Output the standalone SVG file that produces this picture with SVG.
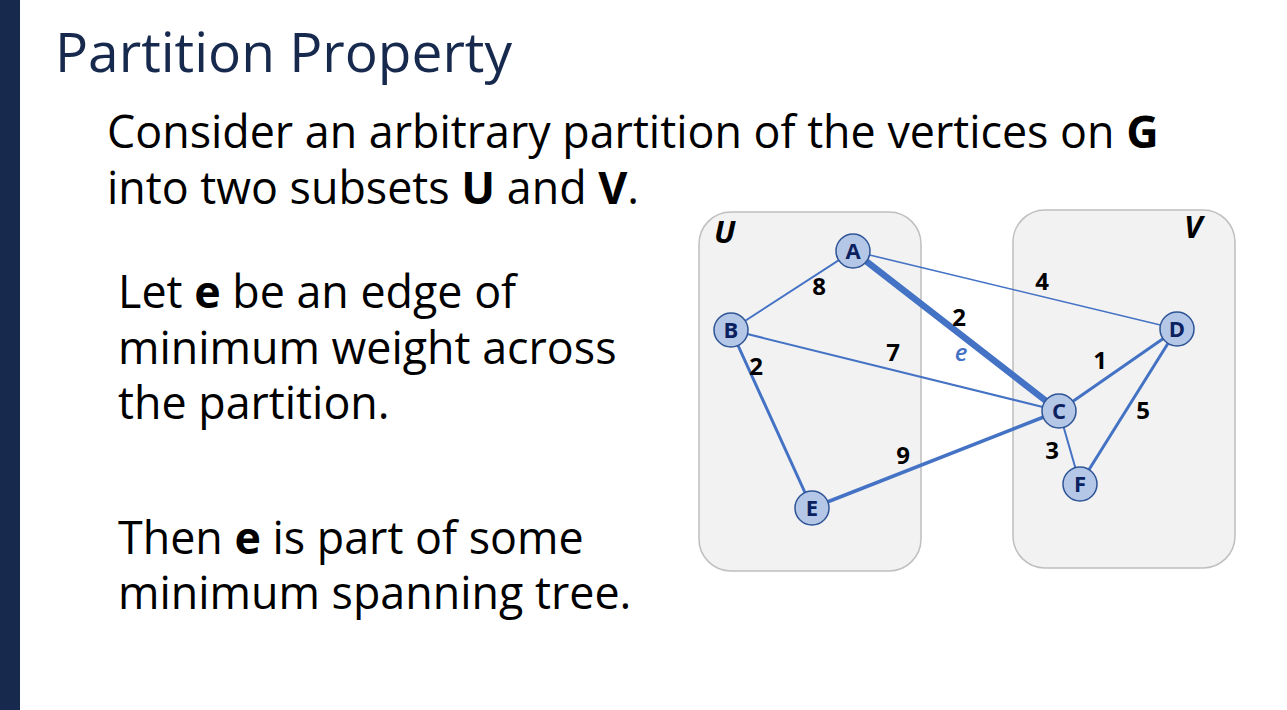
<svg xmlns="http://www.w3.org/2000/svg" width="1287" height="710" viewBox="0 0 1287 710">
<style>
.body{font-family:"Open Sans","Noto Sans",sans-serif;font-size:44.8px;fill:#000}
.b{font-weight:bold}
.box{fill:#F2F2F2;stroke:#BFBFBF;stroke-width:1.5}
.set{font-family:"Open Sans","Noto Sans",sans-serif;font-size:31px;font-weight:bold;font-style:italic;fill:#000}
.edge{stroke:#4472C4;fill:none;stroke-linecap:round}
.w{font-family:"Open Sans","Noto Sans",sans-serif;font-size:24px;font-weight:bold;fill:#000;text-anchor:middle}
.node circle{fill:#B4C7E7;stroke:#2F5597;stroke-width:1.5}
.node text{font-family:"Open Sans","Noto Sans",sans-serif;font-size:22px;font-weight:bold;fill:#0B2160;text-anchor:middle}
</style>
<rect x="0" y="0" width="1287" height="710" fill="#fff"/>
<rect x="0" y="0" width="20" height="710" fill="#172A4E"/>
<text x="55" y="72" font-family="'Open Sans','Noto Sans',sans-serif" font-size="55" fill="#172A4E">Partition Property</text>
<text class="body" x="107" y="148">Consider an arbitrary partition of the vertices on <tspan class="b">G</tspan></text>
<text class="body" x="107" y="204">into two subsets <tspan class="b">U</tspan> and <tspan class="b">V</tspan>.</text>
<text class="body" x="118" y="308">Let <tspan class="b">e</tspan> be an edge of</text>
<text class="body" x="118" y="364">minimum weight across</text>
<text class="body" x="118" y="419">the partition.</text>
<text class="body" x="118" y="554">Then <tspan class="b">e</tspan> is part of some</text>
<text class="body" x="118" y="609">minimum spanning tree.</text>

<g id="setU"><rect class="box" x="699" y="212" width="222" height="359" rx="32"/><text class="set" x="714" y="243">U</text></g>
<g id="setV"><rect class="box" x="1013" y="210" width="222" height="358" rx="32"/><text class="set" x="1184" y="238">V</text></g>

<g id="connectors">
<line class="edge" x1="853" y1="251" x2="731" y2="330" stroke-width="2"/>
<line class="edge" x1="853" y1="251" x2="1177" y2="329" stroke-width="1.6"/>
<line class="edge" x1="853" y1="251" x2="1059" y2="411" stroke-width="6.5"/>
<line class="edge" x1="731" y1="330" x2="1059" y2="411" stroke-width="2"/>
<line class="edge" x1="731" y1="330" x2="812" y2="508" stroke-width="3"/>
<line class="edge" x1="812" y1="508" x2="1059" y2="411" stroke-width="3.5"/>
<line class="edge" x1="1059" y1="411" x2="1177" y2="329" stroke-width="3"/>
<line class="edge" x1="1177" y1="329" x2="1080" y2="484" stroke-width="3"/>
<line class="edge" x1="1059" y1="411" x2="1080" y2="484" stroke-width="2"/>
<text class="w" x="819" y="295">8</text>
<text class="w" x="959" y="326">2</text>
<text x="961" y="361" font-family="'Open Sans','Noto Sans',sans-serif" font-size="24" font-weight="600" font-style="italic" fill="#4472C4" text-anchor="middle">e</text>
<text class="w" x="893" y="361">7</text>
<text class="w" x="756" y="375">2</text>
<text class="w" x="1042" y="290">4</text>
<text class="w" x="1100" y="369">1</text>
<text class="w" x="1143" y="419">5</text>
<text class="w" x="903" y="464">9</text>
<text class="w" x="1052" y="459">3</text>
</g>

<g id="A" class="node"><circle cx="853" cy="251" r="17"/><text x="853" y="259">A</text></g>
<g id="B" class="node"><circle cx="731" cy="330" r="17"/><text x="731" y="338">B</text></g>
<g id="C" class="node"><circle cx="1059" cy="411" r="17"/><text x="1059" y="419">C</text></g>
<g id="D" class="node"><circle cx="1177" cy="329" r="17"/><text x="1177" y="337">D</text></g>
<g id="E" class="node"><circle cx="812" cy="508" r="17"/><text x="812" y="516">E</text></g>
<g id="F" class="node"><circle cx="1080" cy="484" r="17"/><text x="1080" y="492">F</text></g>
</svg>
